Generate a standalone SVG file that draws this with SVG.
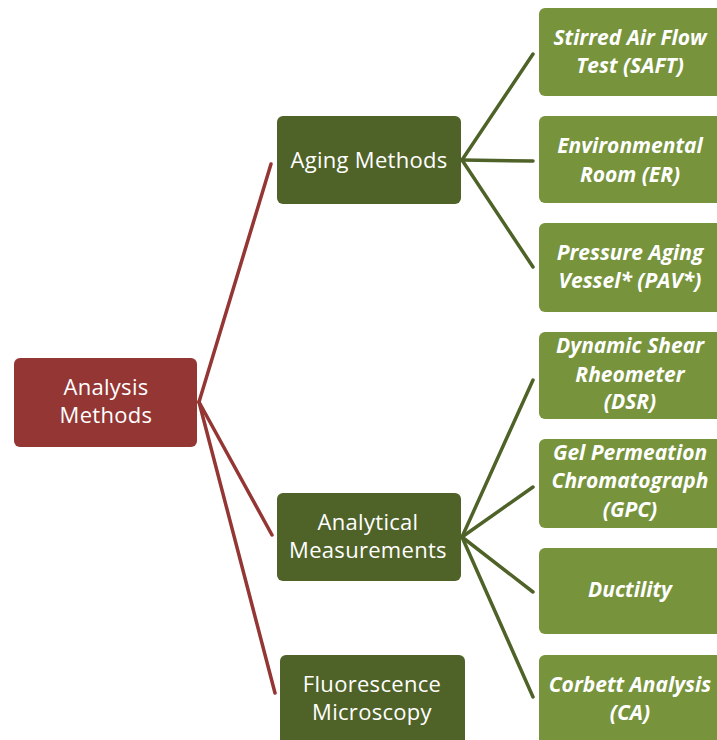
<svg xmlns="http://www.w3.org/2000/svg" width="717" height="740" viewBox="0 0 717 740">
<style>
.root{fill:#943634}
.mid{fill:#4F6228}
.leaf{fill:#77933C}
.t{font-family:"Open Sans","Liberation Sans",sans-serif;font-size:22px;letter-spacing:0.3px;fill:#ffffff;text-anchor:middle}
.ti{font-family:"Open Sans","Liberation Sans",sans-serif;font-size:21px;font-weight:bold;font-style:italic;fill:#ffffff;text-anchor:middle}
.cr{stroke:#943634;stroke-width:3.5;fill:none;stroke-linecap:round}
.cg{stroke:#4F6228;stroke-width:3.5;fill:none;stroke-linecap:round}
</style>
<rect width="717" height="740" fill="#ffffff"/>
<g id="connectors">
<line class="cr" x1="199" y1="402" x2="271" y2="164"/>
<line class="cr" x1="199" y1="402" x2="272" y2="535"/>
<line class="cr" x1="199" y1="402" x2="275" y2="693"/>
<line class="cg" x1="462" y1="160" x2="533" y2="54"/>
<line class="cg" x1="462" y1="160" x2="533" y2="161"/>
<line class="cg" x1="462" y1="160" x2="533" y2="267"/>
<line class="cg" x1="462" y1="537" x2="533" y2="380"/>
<line class="cg" x1="462" y1="537" x2="533" y2="487"/>
<line class="cg" x1="462" y1="537" x2="533" y2="592"/>
<line class="cg" x1="462" y1="537" x2="533" y2="697"/>
</g>
<g id="analysis-methods">
<rect class="root" x="14" y="358" width="183" height="89" rx="6"/>
<text class="t" x="106" y="395">Analysis</text>
<text class="t" x="106" y="423">Methods</text>
</g>
<g id="aging-methods">
<rect class="mid" x="277" y="116" width="184" height="88" rx="6"/>
<text class="t" x="369" y="168">Aging Methods</text>
</g>
<g id="analytical-measurements">
<rect class="mid" x="277" y="493" width="184" height="88" rx="6"/>
<text class="t" x="368" y="530">Analytical</text>
<text class="t" x="368" y="558">Measurements</text>
</g>
<g id="fluorescence-microscopy">
<rect class="mid" x="280" y="655" width="185" height="90" rx="6"/>
<text class="t" x="372" y="692">Fluorescence</text>
<text class="t" x="372" y="720">Microscopy</text>
</g>
<g id="saft">
<rect class="leaf" x="539" y="8" width="183" height="88" rx="6"/>
<text class="ti" x="630" y="45">Stirred Air Flow</text>
<text class="ti" x="630" y="73">Test (SAFT)</text>
</g>
<g id="er">
<rect class="leaf" x="539" y="116" width="183" height="87" rx="6"/>
<text class="ti" x="630" y="153">Environmental</text>
<text class="ti" x="630" y="182">Room (ER)</text>
</g>
<g id="pav">
<rect class="leaf" x="539" y="223" width="183" height="89" rx="6"/>
<text class="ti" x="630" y="260">Pressure Aging</text>
<text class="ti" x="630" y="288">Vessel* (PAV*)</text>
</g>
<g id="dsr">
<rect class="leaf" x="539" y="332" width="183" height="87" rx="6"/>
<text class="ti" x="630" y="353">Dynamic Shear</text>
<text class="ti" x="630" y="382">Rheometer</text>
<text class="ti" x="630" y="409">(DSR)</text>
</g>
<g id="gpc">
<rect class="leaf" x="539" y="439" width="183" height="89" rx="6"/>
<text class="ti" x="630" y="460">Gel Permeation</text>
<text class="ti" x="630" y="488">Chromatograph</text>
<text class="ti" x="630" y="517">(GPC)</text>
</g>
<g id="ductility">
<rect class="leaf" x="539" y="548" width="183" height="86" rx="6"/>
<text class="ti" x="630" y="597">Ductility</text>
</g>
<g id="ca">
<rect class="leaf" x="539" y="655" width="183" height="90" rx="6"/>
<text class="ti" x="630" y="692">Corbett Analysis</text>
<text class="ti" x="630" y="720">(CA)</text>
</g>
</svg>
